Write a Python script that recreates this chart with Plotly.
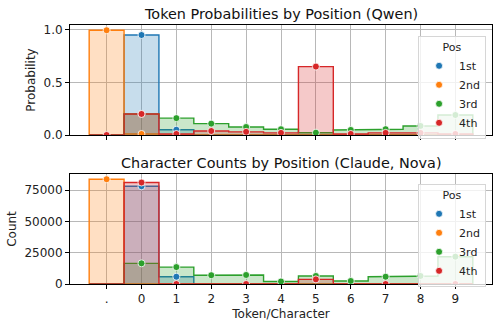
import plotly.graph_objects as go

categories = [".", "0", "1", "2", "3", "4", "5", "6", "7", "8", "9"]
positions = ["1st", "2nd", "3rd", "4th"]
colors = ["#1f77b4", "#ff7f0e", "#2ca02c", "#d62728"]
fills = ["rgba(31,119,180,0.25)", "rgba(255,127,14,0.25)",
         "rgba(44,160,44,0.25)", "rgba(214,39,40,0.25)"]

# Top panel: token probabilities (Qwen); None = no point drawn
prob_1st = [None, 0.95, 0.05, None, None, None, None, None, None, None, None]
prob_2nd = [0.995, 0.01, None, None, None, None, None, None, None, None, None]
prob_3rd = [None, 0.2, 0.16, 0.108, 0.076, 0.055, 0.022, 0.048, 0.055, 0.086, 0.19]
prob_4th = [0.0, 0.2, 0.01, 0.038, 0.03, 0.02, 0.65, 0.01, 0.02, 0.02, 0.01]

# Bottom panel: character counts (Claude, Nova)
cnt_1st = [None, 78000, 5800, None, None, None, None, None, None, None, None]
cnt_2nd = [83600, None, None, None, None, None, None, None, None, None, None]
cnt_3rd = [None, 16500, 13500, 7000, 7200, 2000, 6400, 2400, 5800, 6400, 21800]
cnt_4th = [None, 81000, 0, None, 0, None, 3700, None, 0, None, 0]

top_series = [prob_1st, prob_2nd, prob_3rd, prob_4th]
bot_series = [cnt_1st, cnt_2nd, cnt_3rd, cnt_4th]

idx = list(range(len(categories)))

def step_xy(vals):
    xs, ys = [idx[0] - 0.5], [0]
    for i, v in zip(idx, vals):
        v = 0 if v is None else v
        xs += [i - 0.5, i + 0.5]
        ys += [v, v]
    xs.append(idx[-1] + 0.5)
    ys.append(0)
    return xs, ys

fig = go.Figure()

for panel, series, xa, ya, leg in [(0, top_series, "x", "y", "legend"),
                                   (1, bot_series, "x2", "y2", "legend2")]:
    for k in range(4):
        xs, ys = step_xy(series[k])
        fig.add_trace(go.Scatter(
            x=xs, y=ys, mode="lines", fill="tozeroy", fillcolor=fills[k],
            line=dict(color=colors[k], width=1.4), xaxis=xa, yaxis=ya,
            showlegend=False, hoverinfo="skip"))
    for k in range(4):
        px = [i for i, v in zip(idx, series[k]) if v is not None]
        py = [v for v in series[k] if v is not None]
        fig.add_trace(go.Scatter(
            x=px, y=py, mode="markers", name=positions[k],
            marker=dict(color=colors[k], size=7, line=dict(color="white", width=0.8)),
            xaxis=xa, yaxis=ya, legend=leg, showlegend=True))

axis_common = dict(
    showline=True, linecolor="black", linewidth=1, mirror=True,
    ticks="outside", ticklen=4, tickcolor="black",
    showgrid=True, gridcolor="#b8b8b8", gridwidth=0.8, zeroline=False,
    tickfont=dict(size=12, color="#222"), automargin=False,
)

legend_common = dict(
    xanchor="right", yanchor="top",
    bgcolor="rgba(255,255,255,0.8)", bordercolor="#d6d6d6", borderwidth=1,
    title=dict(text="Pos", side="top center", font=dict(size=11)),
    font=dict(size=11), itemwidth=30, tracegroupgap=0,
)

fig.update_layout(
    width=500, height=328,
    margin=dict(l=70, r=8, t=25, b=44),
    plot_bgcolor="white", paper_bgcolor="white",
    font=dict(family="DejaVu Sans", size=12, color="#222"),
    xaxis=dict(**axis_common, domain=[0, 1], anchor="y", range=[-1.05, 11.05],
               tickvals=idx, ticktext=categories, showticklabels=False, matches="x2"),
    yaxis=dict(**axis_common, domain=[0.5753, 1], anchor="x", range=[0, 1.045],
               tickvals=[0, 0.5, 1.0], ticktext=["0.0", "0.5", "1.0"],
               title=dict(text="Probability", font=dict(size=12), standoff=5)),
    xaxis2=dict(**axis_common, domain=[0, 1], anchor="y2", range=[-1.05, 11.05],
                tickvals=idx, ticktext=categories,
                title=dict(text="Token/Character", font=dict(size=12), standoff=4)),
    yaxis2=dict(**axis_common, domain=[0, 0.4247], anchor="x2", range=[0, 87800],
                tickvals=[0, 25000, 50000, 75000],
                ticktext=["0", "25000", "50000", "75000"],
                title=dict(text="Count", font=dict(size=12), standoff=5)),
    legend=dict(**legend_common, x=0.986, y=0.9575),
    legend2=dict(**legend_common, x=0.986, y=0.386),
    annotations=[
        dict(text="Token Probabilities by Position (Qwen)", x=0.5, y=1, xref="paper",
             yref="paper", xanchor="center", yanchor="bottom", yshift=1,
             showarrow=False, font=dict(size=14.4, color="#111")),
        dict(text="Character Counts by Position (Claude, Nova)", x=0.5, y=0.4247,
             xref="paper", yref="paper", xanchor="center", yanchor="bottom", yshift=1,
             showarrow=False, font=dict(size=14.4, color="#111")),
    ],
)

fig.write_html("out.html", config={"displayModeBar": False},
               post_script="document.body.style.margin='0';")
